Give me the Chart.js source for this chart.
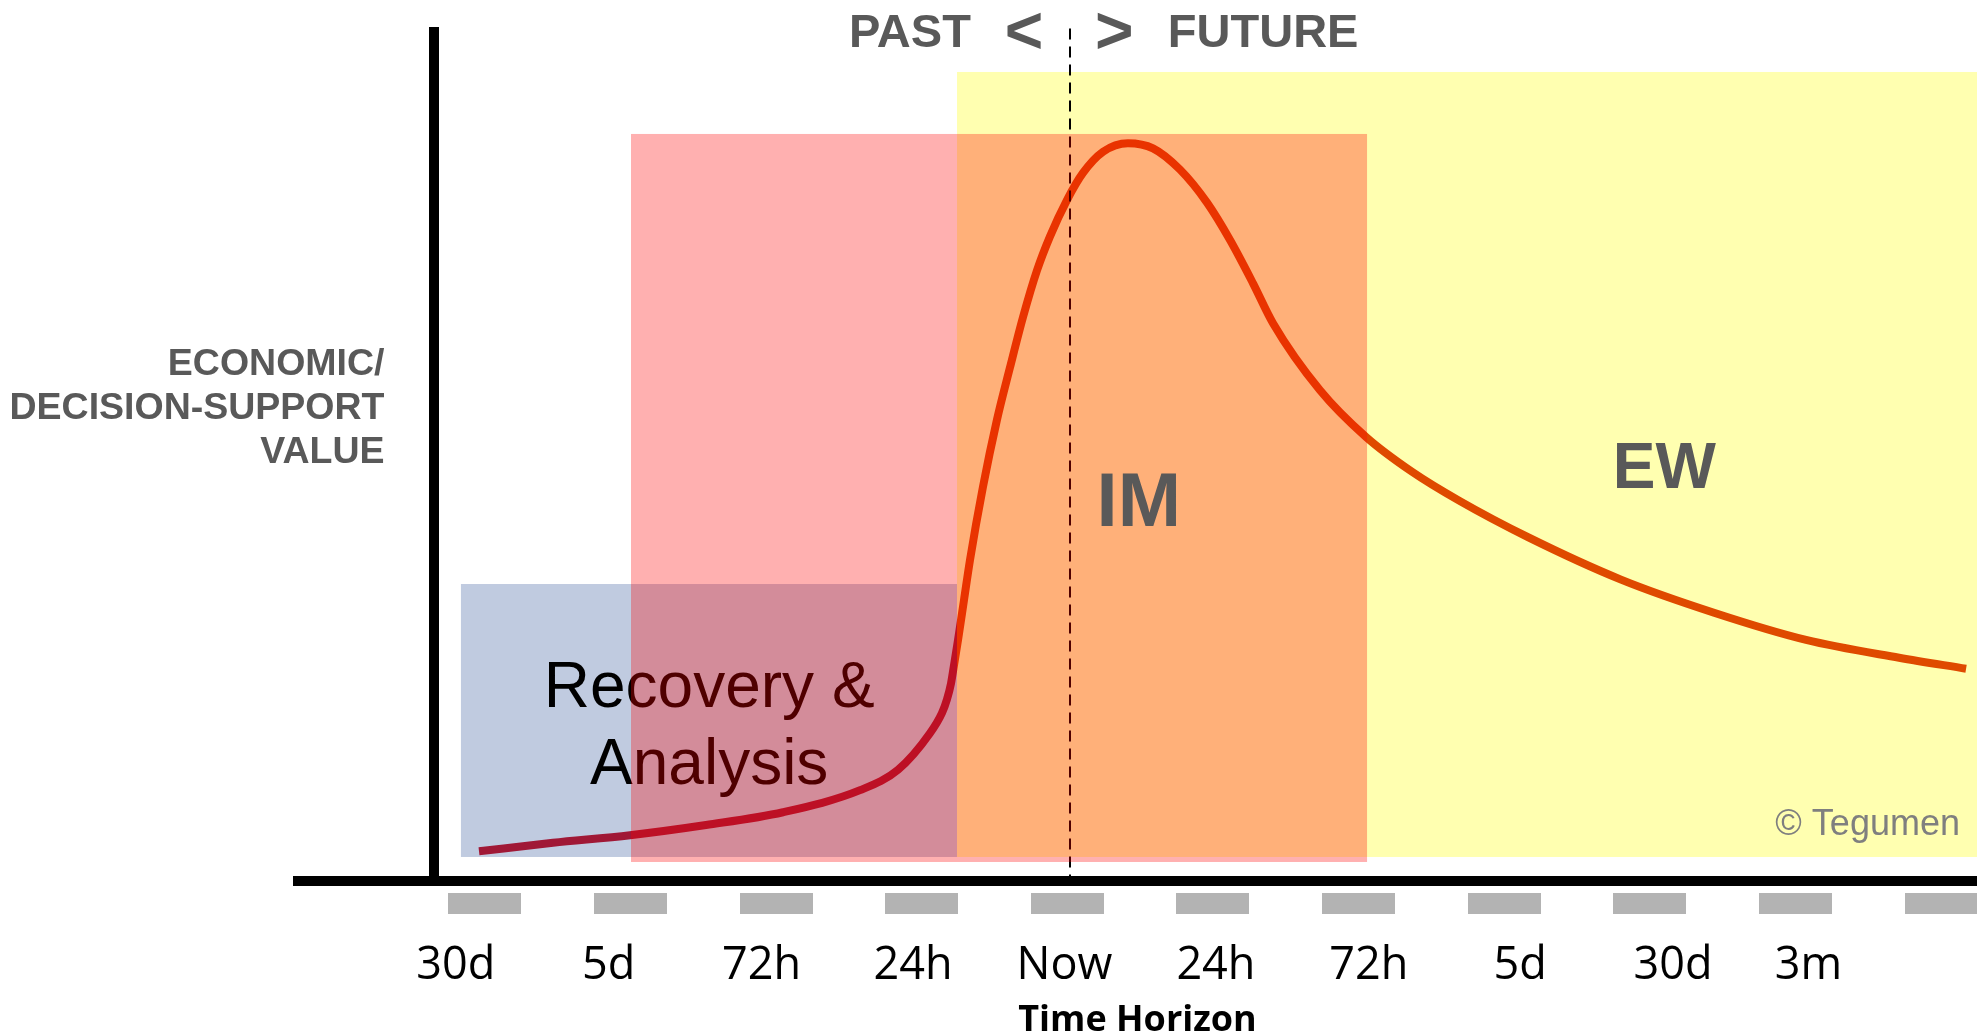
<!DOCTYPE html>
<html>
<head>
<meta charset="utf-8">
<script src="https://cdn.jsdelivr.net/npm/chart.js@4.4.0/dist/chart.umd.min.js"></script>
<style>
  html, body { margin: 0; padding: 0; background: #fff; }
  #wrap { width: 1977px; height: 1035px; position: relative; }
</style>
</head>
<body>
<div id="wrap"><canvas id="valueChart"></canvas></div>
<script>
// Time horizon axis (one unit = one tick mark)
const tickPos = [0, 1, 2, 3, 4, 5, 6, 7, 8, 9, 10];
const tickLabels = ['30d', '5d', '72h', '24h', 'Now', '24h', '72h', '5d', '30d', '3m'];
const labelPos = [-0.2, 0.85, 1.9, 2.94, 3.98, 5.02, 6.07, 7.11, 8.16, 9.09];
const nowAt = 4.02;
const xMin = -1.284, xMax = 10.247;
const yAxisAt = -0.35;

// Decision-support value curve
const curveX = [-0.041, 0.467, 0.996, 1.518, 2.047, 2.576, 2.837, 3.056, 3.139, 3.173, 3.201,
  3.221, 3.249, 3.29, 3.331, 3.42, 3.516, 3.606, 3.695, 3.791, 3.88, 3.997, 4.107, 4.245, 4.416,
  4.588, 4.773, 4.959, 5.117, 5.275, 5.412, 5.735, 6.051, 6.367, 6.69, 7.163, 7.802, 8.441,
  9.073, 9.712, 10.172];
const curveY = [3.5, 4.5, 5.4, 6.6, 8.1, 10.7, 13.1, 17.4, 19.8, 21.4, 23.3,
  25.4, 28.4, 33.1, 37.8, 46.4, 54.3, 60.5, 66.4, 71.9, 75.9, 80.2, 83.4, 85.9, 86.9,
  86.3, 83.8, 79.9, 75.5, 70.4, 65.7, 57.8, 52.3, 48.2, 44.8, 40.5, 35.5, 31.6,
  28.4, 26.3, 25.0];

// Zones: [from, to, bottom, top]
const zoneRecovery = [-0.165, 3.242, 2.83, 34.98];
const zoneIM = [1.003, 6.058, 2.24, 87.99];
const zoneEW = [3.242, xMax, 2.83, 95.29];

const notes = [
  // text, x, y, size, bold, color, align
  ['IM', 4.49, 41.8, 76, true, '#595959', 'center'],
  ['EW', 8.10, 46.3, 64, true, '#595959', 'center'],
  ['© Tegumen', 10.13, 5.42, 36, false, '#7f7f7f', 'right'],
  ['PAST', 2.50, 98.2, 47, true, '#595959', 'left'],
  ['<', 3.57, 97.5, 66, true, '#595959', 'left'],
  ['>', 4.19, 97.5, 66, true, '#595959', 'left'],
  ['FUTURE', 4.69, 98.2, 47, true, '#595959', 'left'],
  ['ECONOMIC/', -0.69, 59.6, 37.5, true, '#595959', 'right'],
  ['DECISION-SUPPORT', -0.69, 54.4, 37.5, true, '#595959', 'right'],
  ['VALUE', -0.69, 49.2, 37.5, true, '#595959', 'right']
];

function fillZone(ctx, x, y, z, color) {
  const x0 = x.getPixelForValue(z[0]), x1 = x.getPixelForValue(z[1]);
  const y0 = y.getPixelForValue(z[2]), y1 = y.getPixelForValue(z[3]);
  ctx.save();
  ctx.fillStyle = color;
  ctx.fillRect(x0, y1, x1 - x0, y0 - y1);
  ctx.restore();
}

function drawNote(ctx, x, y, n) {
  ctx.save();
  ctx.font = (n[4] ? 'bold ' : '') + n[3] + 'px "Liberation Sans", Arial, sans-serif';
  ctx.fillStyle = n[5];
  ctx.textAlign = n[6];
  ctx.textBaseline = 'alphabetic';
  ctx.fillText(n[0], x.getPixelForValue(n[1]), y.getPixelForValue(n[2]));
  ctx.restore();
}

const zonesPlugin = {
  id: 'zones',
  beforeDatasetsDraw(chart) {
    const {ctx, scales: {x, y}} = chart;
    fillZone(ctx, x, y, zoneRecovery, '#c0cbe0');
    fillZone(ctx, x, y, zoneEW, '#ffffb0');
  },
  afterDatasetsDraw(chart) {
    const {ctx, scales: {x, y}} = chart;
    ctx.save();
    ctx.fillStyle = '#000';
    ctx.font = '64px "Liberation Sans", Arial, sans-serif';
    ctx.textAlign = 'center';
    ctx.fillText('Recovery &', x.getPixelForValue(1.54), y.getPixelForValue(20.5));
    ctx.fillText('Analysis', x.getPixelForValue(1.54), y.getPixelForValue(11.4));
    // "now" divider
    const nx = Math.round(x.getPixelForValue(nowAt));
    ctx.strokeStyle = '#000';
    ctx.lineWidth = 2;
    ctx.setLineDash([11, 7]);
    ctx.beginPath();
    ctx.moveTo(nx, y.getPixelForValue(100.4));
    ctx.lineTo(nx, y.getPixelForValue(0));
    ctx.stroke();
    ctx.restore();
    fillZone(ctx, x, y, zoneIM, 'rgba(255,0,0,0.31)');
  },
  afterDraw(chart) {
    const {ctx, scales: {x, y}} = chart;
    notes.forEach(n => drawNote(ctx, x, y, n));
  }
};

Chart.defaults.font.family = 'Open Sans';

const ctx = document.getElementById('valueChart').getContext('2d');
new Chart(ctx, {
  type: 'line',
  data: {
    datasets: [{
      label: 'Value',
      data: curveX.map((v, i) => ({x: v, y: curveY[i]})),
      borderColor: (c) => {
        const chart = c.chart;
        const area = chart.chartArea;
        if (!area) return '#df4a00';
        const split = chart.scales.x.getPixelForValue(zoneRecovery[1]);
        const f = (split - area.left) / (area.right - area.left);
        const g = chart.ctx.createLinearGradient(area.left, 0, area.right, 0);
        g.addColorStop(0, '#a01836');
        g.addColorStop(f, '#a01836');
        g.addColorStop(f, '#df4a00');
        g.addColorStop(1, '#df4a00');
        return g;
      },
      borderWidth: 8,
      pointRadius: 0,
      cubicInterpolationMode: 'monotone',
      fill: false
    }]
  },
  options: {
    responsive: true,
    maintainAspectRatio: false,
    animation: false,
    devicePixelRatio: 1,
    layout: { padding: { left: 298, right: 0, top: 32, bottom: 0 } },
    plugins: { legend: { display: false }, tooltip: { enabled: false } },
    scales: {
      x: {
        type: 'linear', position: 'bottom', min: xMin, max: xMax, weight: 0,
        afterBuildTicks: s => { s.ticks = tickPos.map(v => ({value: v})); },
        afterFit: s => { s.height = 33; },
        grid: { display: true, drawOnChartArea: false, drawTicks: true, tickLength: 33, tickWidth: 73,
          color: '#b3b3b3', tickColor: '#b3b3b3', tickBorderDash: [0, 7, 40] },
        ticks: { display: false },
        border: { display: true, color: '#000', width: 10 }
      },
      xl: {
        type: 'linear', position: 'bottom', min: xMin, max: xMax, weight: 1,
        afterBuildTicks: s => { s.ticks = labelPos.map(v => ({value: v})); },
        grid: { display: false, drawTicks: false },
        border: { display: false },
        ticks: { autoSkip: false, maxRotation: 0, padding: 30, color: '#000',
          font: { family: 'Open Sans', size: 45, lineHeight: 1 },
          callback: (v, i) => tickLabels[i] },
        title: { display: true, text: 'Time Horizon', color: '#000',
          font: { family: 'Open Sans', size: 36, weight: 'bold', lineHeight: 1 },
          padding: { top: -16, bottom: -4 } }
      },
      y: {
        type: 'linear', min: 0, max: 100, position: { x: yAxisAt },
        grid: { display: false, drawTicks: false },
        ticks: { display: false },
        border: { display: true, color: '#000', width: 10 }
      }
    }
  },
  plugins: [zonesPlugin]
});
</script>
</body>
</html>
